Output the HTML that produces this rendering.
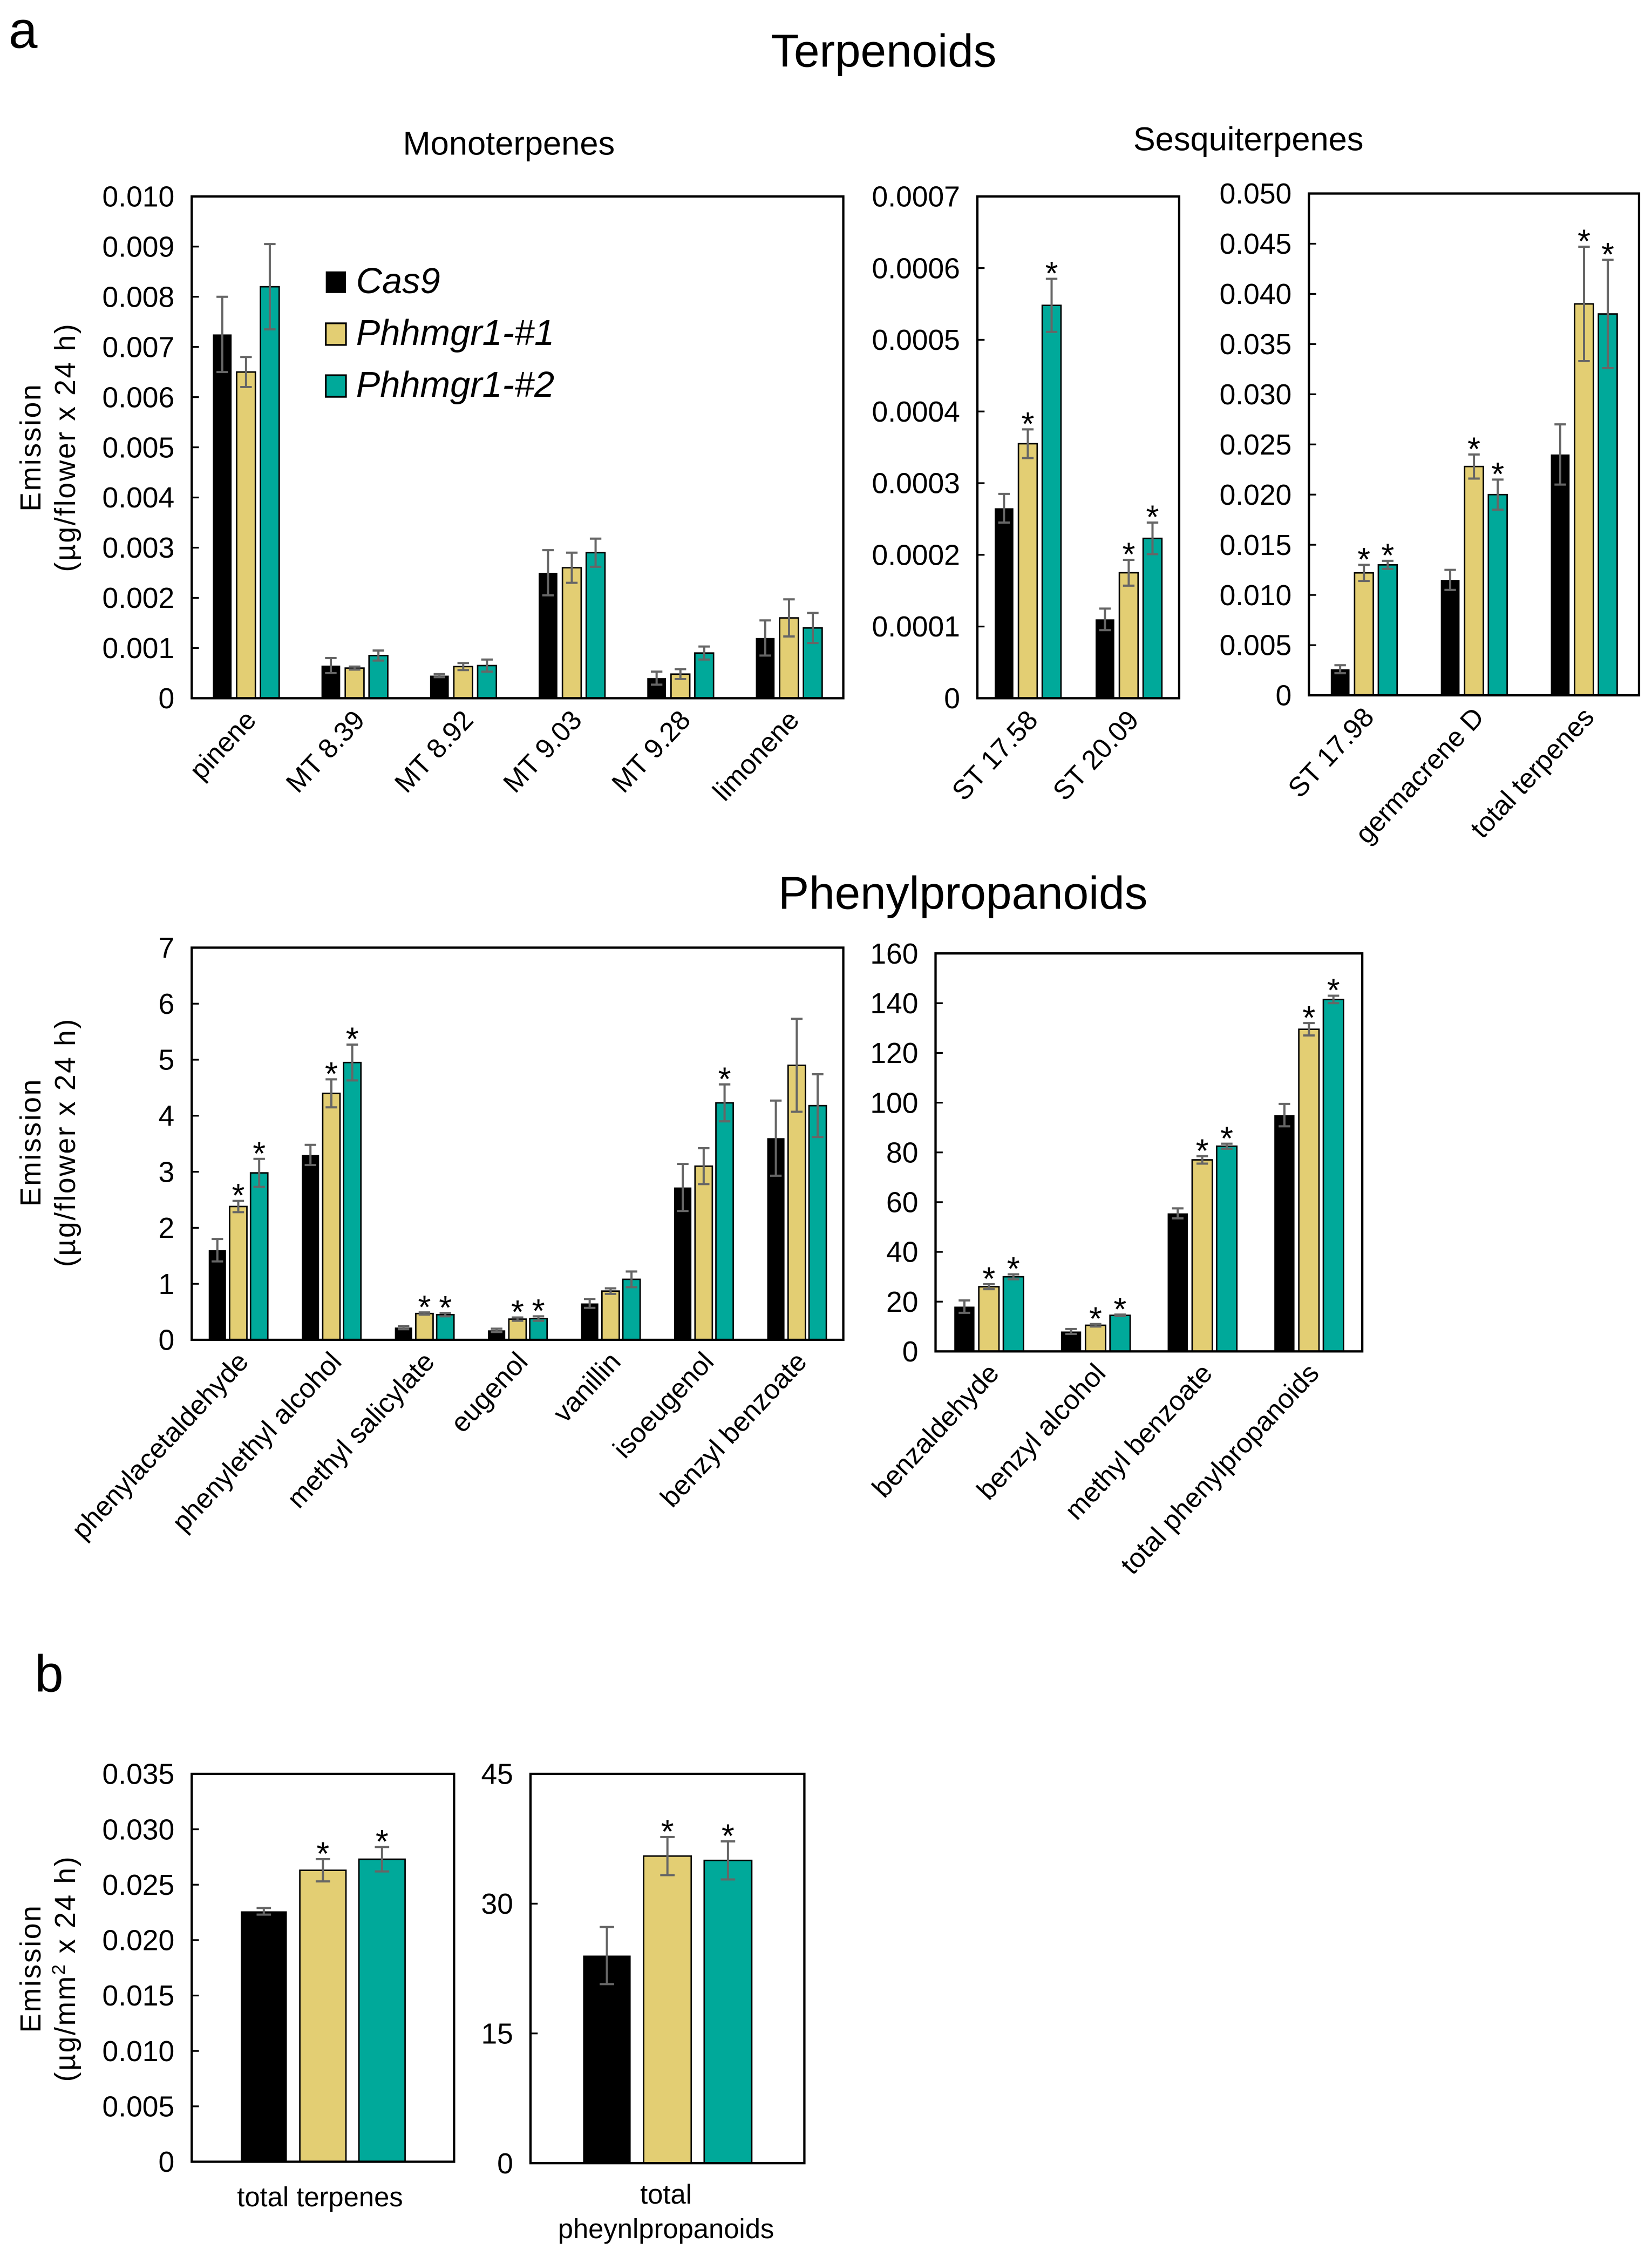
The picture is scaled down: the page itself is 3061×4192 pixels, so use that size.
<!DOCTYPE html>
<html><head><meta charset="utf-8"><style>
html,body{margin:0;padding:0;background:#fff}
svg{display:block}
text{font-family:"Liberation Sans",Arial,sans-serif;fill:#000}
</style></head><body>
<svg id="fig" xmlns="http://www.w3.org/2000/svg" width="3061" height="4192" viewBox="0 0 1146 1569">
<rect width="1146" height="1569" fill="#fff"/>
<text x="6" y="33" font-size="36">a</text>
<text x="24" y="1173" font-size="36">b</text>
<text x="613" y="46" font-size="32" text-anchor="middle">Terpenoids</text>
<text x="353" y="107" font-size="23" text-anchor="middle">Monoterpenes</text>
<text x="866" y="104" font-size="23" text-anchor="middle">Sesquiterpenes</text>
<text x="668" y="630" font-size="32" text-anchor="middle">Phenylpropanoids</text>
<g transform="translate(28,310) rotate(-90)"><text text-anchor="middle" font-size="20" letter-spacing="1">Emission</text><text y="24" text-anchor="middle" font-size="20" letter-spacing="1">(µg/flower x 24 h)</text></g>
<g transform="translate(28,792) rotate(-90)"><text text-anchor="middle" font-size="20" letter-spacing="1">Emission</text><text y="24" text-anchor="middle" font-size="20" letter-spacing="1">(µg/flower x 24 h)</text></g>
<g transform="translate(28,1365) rotate(-90)"><text text-anchor="middle" font-size="20" letter-spacing="1">Emission</text><text y="24" text-anchor="middle" font-size="20" letter-spacing="1">(µg/mm<tspan font-size="13" dy="-7">2</tspan><tspan dy="7"> x 24 h)</tspan></text></g>
<g>
<rect x="226" y="188" width="14" height="15" fill="#000"/>
<text x="247" y="203" font-size="25" font-style="italic">Cas9</text>
<rect x="226" y="224" width="14" height="15" fill="#E3CE73" stroke="#000" stroke-width="1.2"/>
<text x="247" y="239" font-size="25" font-style="italic">Phhmgr1-#1</text>
<rect x="226" y="260" width="14" height="15" fill="#00A99A" stroke="#000" stroke-width="1.2"/>
<text x="247" y="275" font-size="25" font-style="italic">Phhmgr1-#2</text>
</g>
<g id="charts"></g>
</svg>
<script>
// Panel 1: monoterpenes
const p1Cats=["pinene","MT 8.39","MT 8.92","MT 9.03","MT 9.28","limonene"];
const p1Cas9=[0.00725,0.00065,0.00045,0.0025,0.0004,0.0012];
const p1L1=[0.0065,0.0006,0.00063,0.0026,0.00048,0.0016];
const p1L2=[0.0082,0.00085,0.00065,0.0029,0.0009,0.0014];
const p1ErrCas9=[0.00075,0.00015,0.00003,0.00045,0.00013,0.00035];
const p1ErrL1=[0.0003,0.00003,0.00007,0.0003,0.0001,0.00037];
const p1ErrL2=[0.00085,0.0001,0.00012,0.00028,0.00013,0.0003];
const p1SigL1=[0,0,0,0,0,0];
const p1SigL2=[0,0,0,0,0,0];
const p1Ticks=["0","0.001","0.002","0.003","0.004","0.005","0.006","0.007","0.008","0.009","0.010"];
// Panel 2: sesquiterpenes small
const p2Cats=["ST 17.58","ST 20.09"];
const p2Cas9=[0.000265,0.00011];
const p2L1=[0.000355,0.000175];
const p2L2=[0.000548,0.000223];
const p2ErrCas9=[0.00002,0.000015];
const p2ErrL1=[0.00002,0.000018];
const p2ErrL2=[0.000037,0.000022];
const p2SigL1=[1,1];
const p2SigL2=[1,1];
const p2Ticks=["0","0.0001","0.0002","0.0003","0.0004","0.0005","0.0006","0.0007"];
// Panel 3
const p3Cats=["ST 17.98","germacrene D","total terpenes"];
const p3Cas9=[0.0026,0.0115,0.024];
const p3L1=[0.0122,0.0228,0.039];
const p3L2=[0.013,0.02,0.038];
const p3ErrCas9=[0.0004,0.001,0.003];
const p3ErrL1=[0.0008,0.0012,0.0057];
const p3ErrL2=[0.0004,0.0015,0.0054];
const p3SigL1=[1,1,1];
const p3SigL2=[1,1,1];
const p3Ticks=["0","0.005","0.010","0.015","0.020","0.025","0.030","0.035","0.040","0.045","0.050"];
// Panel 4
const p4Cats=["phenylacetaldehyde","phenylethyl alcohol","methyl salicylate","eugenol","vanillin","isoeugenol","benzyl benzoate"];
const p4Cas9=[1.6,3.3,0.22,0.17,0.65,2.72,3.6];
const p4L1=[2.38,4.4,0.47,0.37,0.87,3.1,4.9];
const p4L2=[2.98,4.95,0.45,0.38,1.08,4.23,4.18];
const p4ErrCas9=[0.2,0.18,0.03,0.03,0.08,0.42,0.67];
const p4ErrL1=[0.1,0.25,0.02,0.03,0.05,0.32,0.83];
const p4ErrL2=[0.25,0.32,0.03,0.04,0.14,0.33,0.56];
const p4SigL1=[1,1,1,1,0,0,0];
const p4SigL2=[1,1,1,1,0,1,0];
const p4Ticks=["0","1","2","3","4","5","6","7"];
// Panel 5
const p5Cats=["benzaldehyde","benzyl alcohol","methyl benzoate","total phenylpropanoids"];
const p5Cas9=[18,8,55.5,95];
const p5L1=[26,10.5,77,129.5];
const p5L2=[30,14.5,82.5,141.5];
const p5ErrCas9=[2.5,1,2,4.5];
const p5ErrL1=[1,0.5,1.5,2.5];
const p5ErrL2=[1,0.3,1,1.5];
const p5SigL1=[1,1,1,1];
const p5SigL2=[1,1,1,1];
const p5Ticks=["0","20","40","60","80","100","120","140","160"];
// Panel b1
const b1Cats=["total terpenes"];
const b1Cas9=[0.0226];const b1L1=[0.0263];const b1L2=[0.0273];
const b1ErrCas9=[0.0003];const b1ErrL1=[0.001];const b1ErrL2=[0.0011];
const b1SigL1=[1];const b1SigL2=[1];
const b1Ticks=["0","0.005","0.010","0.015","0.020","0.025","0.030","0.035"];
// Panel b2
const b2Cats=["total pheynlpropanoids"];
const b2Cas9=[24];const b2L1=[35.5];const b2L2=[35];
const b2ErrCas9=[3.3];const b2ErrL1=[2.2];const b2ErrL2=[2.2];
const b2SigL1=[1];const b2SigL2=[1];
const b2Ticks=["0","15","30","45"];

const NS="http://www.w3.org/2000/svg";
const root=document.getElementById('charts');
const COLS=["#000","#E3CE73","#00A99A"];
function mk(tag,attrs,parent){const e=document.createElementNS(NS,tag);for(const k in attrs)e.setAttribute(k,attrs[k]);(parent||root).appendChild(e);return e;}

function chart(id,box,cats,series,errs,sigs,ticks,opt){
  const g=mk('g',{});
  
  
  const [L,T,R,B]=box;
  const ymax=parseFloat(ticks[ticks.length-1]);
  const y=v=>B-(v/ymax)*(B-T);
  const gw=(R-L)/cats.length;
  const xc=i=>L+gw*(i+0.5);
  ticks.forEach((t)=>{
    const v=parseFloat(t),yy=y(v);
    const tk=mk('line',{x1:L,x2:L+5,y1:yy,y2:yy,stroke:'#000','stroke-width':1.2},g);
    
    
    const tl=mk('text',{x:L-12,y:yy+7,'font-size':opt.tfs||20,'text-anchor':'end'},g);
    
    
    tl.textContent=t;
  });
  cats.forEach((c,i)=>{
    for(let s=0;s<3;s++){
      const v=series[s][i],e=errs[s][i];
      const bx=xc(i)+(s-1)*opt.step-opt.bw/2;
      const r=mk('rect',{x:bx,y:y(v),width:opt.bw,height:B-y(v),fill:COLS[s],stroke:s?'#000':'none','stroke-width':s?1:0},g);
      
      
      const cx=bx+opt.bw/2,cw=opt.cap;
      const eb=mk('path',{d:`M${cx},${y(v+e)}V${y(v-e)}M${cx-cw},${y(v+e)}H${cx+cw}M${cx-cw},${y(v-e)}H${cx+cw}`,stroke:'#666','stroke-width':1.5,fill:'none'},g);
      
      
      if(s>0 && sigs[s-1][i]){
        const st=mk('text',{x:cx,y:y(v+e)-5,dy:'9','font-size':23,'text-anchor':'middle'},g);
        
        
        st.textContent='*';
      }
    }
    if(opt.rot){
      const lb=mk('text',{transform:`translate(${xc(i)+8},${B+16}) rotate(-47)`,'font-size':19,'text-anchor':'end'},g);
      
      
      lb.textContent=c;
    }
  });
  const fr=mk('rect',{x:L,y:T,width:R-L,height:B-T,fill:'none',stroke:'#000','stroke-width':1.6},g);
  
  
}
chart('monoterpenes',[133,136,585,484],p1Cats,[p1Cas9,p1L1,p1L2],[p1ErrCas9,p1ErrL1,p1ErrL2],[p1SigL1,p1SigL2],p1Ticks,{bw:13,step:16.5,cap:4,rot:1});
chart('sesquiterpenes-a',[678,136,818,484],p2Cats,[p2Cas9,p2L1,p2L2],[p2ErrCas9,p2ErrL1,p2ErrL2],[p2SigL1,p2SigL2],p2Ticks,{bw:13,step:16.5,cap:4,rot:1});
chart('sesquiterpenes-b',[908,134,1137,482],p3Cats,[p3Cas9,p3L1,p3L2],[p3ErrCas9,p3ErrL1,p3ErrL2],[p3SigL1,p3SigL2],p3Ticks,{bw:13,step:16.5,cap:4,rot:1});
chart('phenylpropanoids-a',[133,657,585,929],p4Cats,[p4Cas9,p4L1,p4L2],[p4ErrCas9,p4ErrL1,p4ErrL2],[p4SigL1,p4SigL2],p4Ticks,{bw:12,step:14.5,cap:4,rot:1});
chart('phenylpropanoids-b',[649,661,945,937],p5Cats,[p5Cas9,p5L1,p5L2],[p5ErrCas9,p5ErrL1,p5ErrL2],[p5SigL1,p5SigL2],p5Ticks,{bw:14,step:17,cap:4,rot:1});
chart('b-terpenes',[133,1230,315,1499],b1Cats,[b1Cas9,b1L1,b1L2],[b1ErrCas9,b1ErrL1,b1ErrL2],[b1SigL1,b1SigL2],b1Ticks,{bw:32,step:41,cap:5,rot:0});
chart('b-phenylpropanoids',[368,1230,558,1500],b2Cats,[b2Cas9,b2L1,b2L2],[b2ErrCas9,b2ErrL1,b2ErrL2],[b2SigL1,b2SigL2],b2Ticks,{bw:33,step:42,cap:5,rot:0});
const xl=[["total terpenes",222,1530],["total",462,1528],["pheynlpropanoids",462,1552]];
xl.forEach(a=>{
  const t=mk('text',{x:a[1],y:a[2],'font-size':19,'text-anchor':'middle'});
  
  
  t.textContent=a[0];
});
</script>
</body></html>
